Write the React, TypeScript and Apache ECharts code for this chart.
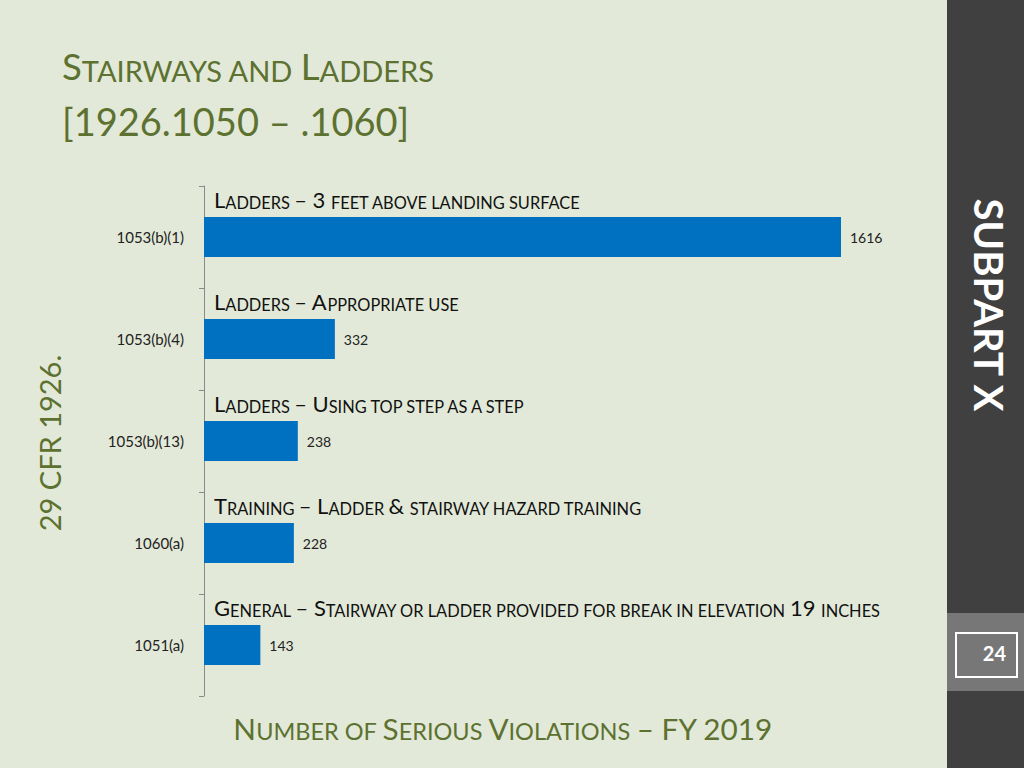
import React, { useEffect, useRef } from "react";
import * as echarts from "echarts";

const categories = ["1053(b)(1)", "1053(b)(4)", "1053(b)(13)", "1060(a)", "1051(a)"];
const values = [1616, 332, 238, 228, 143];
const notes = [
  "Ladders – 3 feet above landing surface",
  "Ladders – Appropriate use",
  "Ladders – Using top step as a step",
  "Training – Ladder & stairway hazard training",
  "General – Stairway or ladder provided for break in elevation 19 inches",
];
const titleLine1 = "Stairways and Ladders";
const titleLine2 = "[1926.1050 – .1060]";
const xAxisTitle = "Number of Serious Violations – FY 2019";
const sideLabel = "29 CFR 1926.";
const sectionLabel = "SUBPART X";
const pageNumber = "24";

const FONT = "Lato";
const GREEN = "#5d7130";
const BG = "#e2e9d8";

function smallCaps(s: string, big: string, small: string): string {
  let out = "";
  let cur: string | null = null;
  let buf = "";
  for (const ch of s) {
    const isLower = ch !== ch.toUpperCase();
    const kind = isLower ? small : ch === " " && cur ? cur : big;
    if (cur !== null && kind !== cur) {
      out += `{${cur}|${buf}}`;
      buf = "";
    }
    cur = kind;
    buf += isLower ? ch.toUpperCase() : ch;
  }
  if (cur !== null && buf) out += `{${cur}|${buf}}`;
  return out;
}

export default function App() {
  const ref = useRef<HTMLDivElement>(null);
  useEffect(() => {
    if (!ref.current) return;
    const chart = echarts.init(ref.current, null, { renderer: "svg" });
    chart.setOption({
      animation: false,
      backgroundColor: BG,
      textStyle: { fontFamily: FONT },
      grid: { left: 204, right: 183, top: 186, bottom: 72, containLabel: false },
      xAxis: { type: "value", min: 0, max: "dataMax", show: false },
      yAxis: {
        type: "category",
        inverse: true,
        data: categories,
        axisLine: { show: true, lineStyle: { color: "#8a8a8a", width: 1 } },
        axisTick: { show: true, length: 5, lineStyle: { color: "#8a8a8a" } },
        axisLabel: { fontFamily: FONT, fontSize: 15, color: "#222", margin: 20 },
      },
      series: [
        {
          type: "bar",
          data: values,
          barWidth: 40,
          itemStyle: { color: "#0070c0" },
          label: { show: true, position: "right", distance: 9, fontFamily: FONT, fontSize: 14, color: "#222" },
        },
        {
          type: "bar",
          data: values,
          barWidth: 40,
          barGap: "-100%",
          silent: true,
          itemStyle: { color: "rgba(0,0,0,0)" },
          label: {
            show: true,
            position: [10, -18],
            verticalAlign: "middle",
            align: "left",
            formatter: (p: any) => smallCaps(notes[p.dataIndex], "b", "s"),
            rich: {
              b: { fontFamily: FONT, fontSize: 22, color: "#111", verticalAlign: "bottom" },
              s: { fontFamily: FONT, fontSize: 16.4, color: "#111", verticalAlign: "bottom" },
            },
          },
        },
      ],
      graphic: [
        { type: "rect", shape: { x: 947, y: 0, width: 77, height: 768 }, style: { fill: "#404040" } },
        { type: "rect", shape: { x: 947, y: 613, width: 77, height: 78 }, style: { fill: "#777777" } },
        {
          type: "rect",
          shape: { x: 956, y: 633, width: 61, height: 44 },
          style: { fill: "none", stroke: "#ffffff", lineWidth: 2 },
        },
        {
          type: "text",
          x: 1006,
          y: 653,
          style: { text: pageNumber, fill: "#fff", font: `bold 20px ${FONT}`, align: "right", verticalAlign: "middle" },
        },
        {
          type: "text",
          x: 989,
          y: 305,
          rotation: -Math.PI / 2,
          style: { text: sectionLabel, fill: "#fff", font: `bold 40px ${FONT}`, align: "center", verticalAlign: "middle" },
        },
        {
          type: "text",
          x: 49,
          y: 443,
          rotation: Math.PI / 2,
          style: { text: sideLabel, fill: GREEN, font: `29px ${FONT}`, align: "center", verticalAlign: "middle" },
        },
        {
          type: "text",
          x: 62,
          y: 66,
          style: {
            text: smallCaps(titleLine1, "b", "s"),
            align: "left",
            verticalAlign: "middle",
            rich: {
              b: { fontFamily: FONT, fontSize: 36.6, fill: GREEN, color: GREEN, verticalAlign: "bottom" },
              s: { fontFamily: FONT, fontSize: 29, fill: GREEN, color: GREEN, verticalAlign: "bottom" },
            },
          },
        },
        {
          type: "text",
          x: 62,
          y: 121,
          style: { text: titleLine2, fill: GREEN, font: `38px ${FONT}`, align: "left", verticalAlign: "middle" },
        },
        {
          type: "text",
          x: 503,
          y: 728,
          style: {
            text: smallCaps(xAxisTitle, "b", "s"),
            align: "center",
            verticalAlign: "middle",
            rich: {
              b: { fontFamily: FONT, fontSize: 29.7, fill: GREEN, color: GREEN, verticalAlign: "bottom" },
              s: { fontFamily: FONT, fontSize: 23.5, fill: GREEN, color: GREEN, verticalAlign: "bottom" },
            },
          },
        },
      ],
    });
    return () => chart.dispose();
  }, []);
  return (
    <div
      ref={ref}
      style={{ position: "fixed", left: 0, top: 0, width: 1024, height: 768 }}
    />
  );
}
